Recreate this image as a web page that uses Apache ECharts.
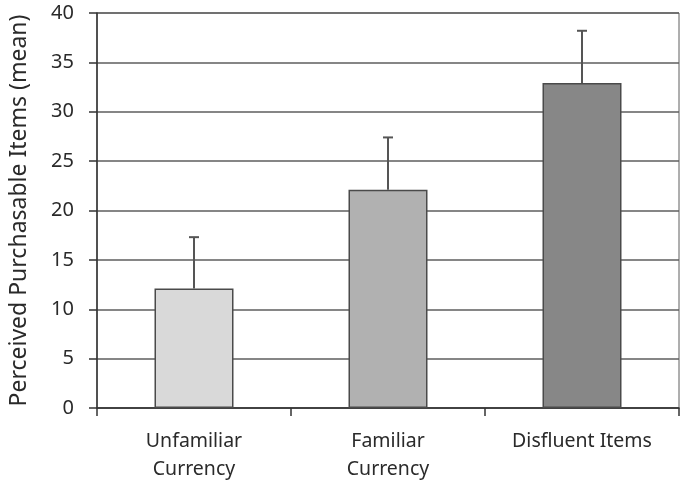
<!DOCTYPE html>
<html>
<head>
<meta charset="utf-8">
<script src="https://cdn.jsdelivr.net/npm/echarts@6/dist/echarts.min.js"></script>
<style>
  html, body { margin: 0; padding: 0; background: #fff; }
  #main { width: 684px; height: 483px; }
</style>
</head>
<body>
<div id="main"></div>
<script>
(function(){
  'use strict';

  // data
  var categories = ['Unfamiliar\nCurrency', 'Familiar\nCurrency', 'Disfluent Items'];
  var means = [12.1, 22.1, 32.9];
  var upperErr = [17.3, 27.4, 38.2];
  var barColors = ['#d9d9d9', '#b1b1b1', '#878787'];
  var yTicks = [0, 5, 10, 15, 20, 25, 30, 35, 40];

  var font = '"Noto Sans", "Open Sans", sans-serif';

  var myChart = echarts.init(document.getElementById('main'));

  var errData = categories.map(function(c, i){ return [i, means[i], upperErr[i]]; });

  var option = {
    animation: false,
    grid: {
      left: 96, right: 5, top: 13, bottom: 72,
      show: true, borderColor: '#5e5e5e', borderWidth: 1
    },
    xAxis: {
      type: 'category',
      data: categories,
      axisLine: { lineStyle: { color: '#333', width: 1.5 } },
      axisTick: { show: true, length: 8, inside: false, lineStyle: { color: '#333', width: 1.5 } },
      axisLabel: { color: '#2a2a2a', fontSize: 19.5, fontFamily: font, margin: 19, lineHeight: 28 }
    },
    yAxis: {
      type: 'value',
      min: yTicks[0], max: yTicks[yTicks.length - 1], interval: 5,
      name: 'Perceived Purchasable Items (mean)',
      nameLocation: 'middle',
      nameGap: 66,
      nameTextStyle: { color: '#2a2a2a', fontSize: 23, fontFamily: font },
      axisLine: { show: true, lineStyle: { color: '#333', width: 1.5 } },
      axisTick: { show: true, length: 8, lineStyle: { color: '#333', width: 1.5 } },
      axisLabel: { color: '#2a2a2a', fontSize: 20, fontFamily: font, margin: 23 },
      splitLine: { show: true, lineStyle: { color: '#5e5e5e', width: 1.5 } }
    },
    series: [
      {
        type: 'bar',
        barWidth: 79,
        data: means.map(function(v, i){
          return { value: v, itemStyle: { color: barColors[i] } };
        }),
        itemStyle: { borderColor: '#4a4a4a', borderWidth: 1.5 },
        z: 2
      },
      {
        type: 'custom',
        data: errData,
        z: 3,
        renderItem: function(params, api){
          var x = api.value(0);
          var lo = api.coord([x, api.value(1)]);
          var hi = api.coord([x, api.value(2)]);
          var style = { stroke: '#555', lineWidth: 2 };
          return {
            type: 'group',
            children: [
              { type: 'line', shape: { x1: lo[0], y1: lo[1], x2: hi[0], y2: hi[1] }, style: style },
              { type: 'line', shape: { x1: hi[0] - 5, y1: hi[1], x2: hi[0] + 5, y2: hi[1] }, style: style }
            ]
          };
        }
      }
    ]
  };

  myChart.setOption(option);
}());
</script>
</body>
</html>
